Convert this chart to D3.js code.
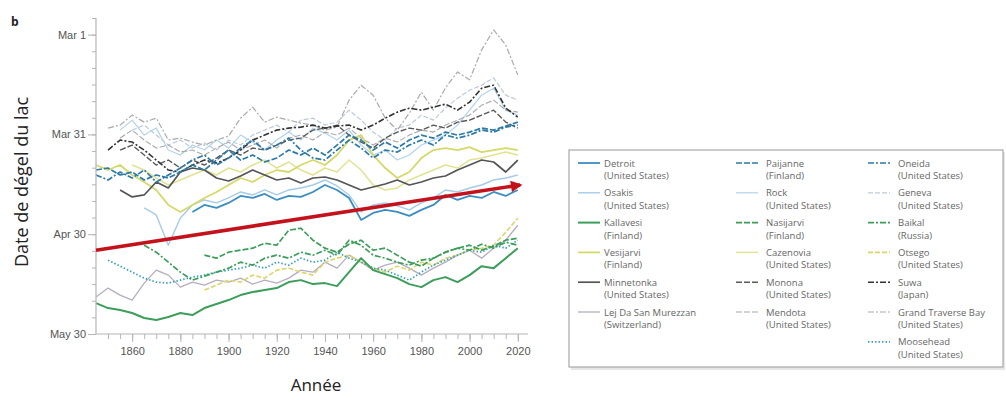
<!DOCTYPE html>
<html>
<head>
<meta charset="utf-8">
<script src="https://cdn.jsdelivr.net/npm/d3@7"></script>
<style>
  body { margin: 0; background: #fff; }
  svg { font-family: "Open Sans", sans-serif; }
</style>
</head>
<body>
<div id="chart"></div>
<script>
// years sampled every 5 years, values are ice-out day of year
var years = [1845, 1850, 1855, 1860, 1865, 1870, 1875, 1880, 1885, 1890, 1895, 1900,
  1905, 1910, 1915, 1920, 1925, 1930, 1935, 1940, 1945, 1950, 1955, 1960,
  1965, 1970, 1975, 1980, 1985, 1990, 1995, 2000, 2005, 2010, 2015, 2020];

// series end in 2020, start where their record begins
var detroit = [113.3, 111.2, 112.1, 110.6, 108.5, 109.1, 107.9, 109.7, 108.5, 108.8, 107.3, 105.2, 106.7, 109.1, 115.7, 113.6, 112.7, 113.3, 114.5, 112.7, 111.2, 108.2, 109.7, 108.5, 109.1, 107.3, 108.5, 106.7];
var osakis = [112.1, 114.2, 123.3, 115.1, 111.2, 109.7, 110.6, 109.1, 107.3, 108.2, 106.7, 108.2, 106.7, 106.1, 105.2, 103.7, 105.5, 108.2, 113.3, 111.2, 110.6, 111.5, 112.7, 110.6, 109.1, 106.7, 107.3, 106.1, 105.2, 103.7, 103.1, 102.2];
var kallavesi = [140.7, 142.2, 142.8, 143.7, 145.2, 145.8, 144.9, 143.7, 144.3, 142.2, 141.0, 139.8, 138.3, 137.4, 136.8, 136.2, 134.4, 133.8, 135.0, 134.7, 135.6, 131.4, 127.2, 130.8, 132.0, 133.2, 135.0, 135.9, 133.8, 132.9, 134.4, 132.3, 129.6, 130.2, 127.2, 124.2];
var vesijarvi = [99.2, 100.7, 99.2, 102.2, 104.3, 106.7, 111.2, 113.3, 111.2, 109.1, 107.3, 105.2, 103.1, 104.3, 102.2, 100.7, 101.3, 99.2, 97.7, 99.2, 96.2, 91.7, 90.2, 96.2, 100.1, 103.1, 101.3, 97.1, 94.7, 94.1, 94.7, 93.8, 95.3, 94.7, 94.1, 94.7];
var minnetonka = [106.7, 108.8, 108.2, 104.3, 106.1, 101.3, 100.1, 100.7, 103.1, 104.0, 102.5, 100.7, 102.2, 103.7, 103.1, 104.6, 103.1, 102.8, 103.7, 105.2, 106.7, 105.8, 104.9, 103.7, 105.2, 104.3, 103.1, 102.5, 100.7, 99.2, 97.7, 98.3, 101.3, 97.7];
var lejDaSanMurezzan = [138.9, 136.2, 138.3, 139.8, 134.7, 130.8, 132.3, 135.9, 134.4, 135.3, 133.8, 134.4, 133.2, 135.0, 133.8, 134.7, 133.2, 130.8, 131.4, 128.4, 130.2, 126.3, 128.4, 130.8, 129.3, 128.4, 130.2, 132.3, 130.2, 128.4, 126.3, 124.8, 127.2, 124.2, 121.8, 117.3];
var paijanne = [100.7, 100.1, 102.2, 101.3, 103.7, 102.2, 103.1, 101.3, 99.2, 100.7, 97.7, 94.7, 97.7, 96.2, 98.3, 97.1, 94.7, 96.2, 94.1, 96.2, 93.2, 90.2, 91.7, 94.7, 92.3, 94.1, 91.7, 90.2, 91.1, 89.3, 90.2, 89.3, 88.1, 88.7, 87.5, 86.3];
var rock = [88.7, 85.7, 90.2, 88.1, 94.7, 96.2, 93.2, 94.7, 91.7, 94.1, 90.2, 92.3, 94.7, 91.7, 89.3, 91.7, 88.1, 89.6, 91.7, 88.7, 93.2, 96.2, 94.7, 97.7, 96.2, 93.2, 91.7, 90.2, 87.2, 82.7, 78.2, 76.1, 82.7, 84.2];
var nasijarvi = [126.3, 127.2, 125.4, 124.8, 124.2, 122.7, 123.3, 118.8, 118.2, 121.8, 124.2, 125.4, 123.0, 121.8, 124.8, 124.2, 126.3, 128.4, 129.6, 127.2, 125.4, 124.2, 123.3, 124.8, 123.6, 121.8, 121.2];
var cazenovia = [99.2, 100.7, 103.1, 105.2, 103.7, 102.2, 100.7, 102.2, 100.1, 101.3, 99.2, 97.7, 100.1, 98.3, 100.7, 102.2, 100.1, 101.3, 97.7, 100.7, 105.2, 106.7, 106.1, 103.7, 102.2, 100.7, 99.2, 100.1, 97.7, 97.1, 96.2, 95.3, 96.2];
var monona = [94.7, 93.2, 96.2, 99.2, 97.7, 100.1, 97.7, 99.2, 97.1, 94.7, 96.2, 94.1, 94.7, 93.2, 91.7, 91.1, 88.7, 88.1, 87.2, 90.2, 92.3, 94.1, 91.1, 89.3, 88.1, 88.7, 87.2, 88.1, 86.3, 85.7, 84.2, 82.7, 86.3, 88.1];
var mendota = [91.1, 88.7, 91.7, 94.1, 93.2, 95.3, 94.7, 96.2, 94.1, 92.3, 94.7, 93.2, 91.7, 94.1, 91.1, 90.2, 91.7, 89.3, 90.2, 88.1, 91.1, 93.2, 91.1, 92.3, 90.2, 88.7, 89.3, 87.2, 85.7, 84.2, 81.2, 79.7, 82.7, 83.3];
var oneida = [102.2, 103.7, 101.3, 103.1, 100.7, 104.3, 102.2, 100.1, 97.7, 96.2, 99.2, 97.1, 94.1, 91.7, 94.7, 93.2, 91.1, 94.7, 97.1, 97.7, 94.7, 91.7, 94.1, 97.1, 94.7, 95.3, 93.2, 91.7, 93.2, 90.2, 91.1, 90.2, 88.7, 89.3, 87.8, 87.2];
var geneva = [88.7, 87.2, 90.2, 93.2, 91.7, 94.1, 92.6, 94.7, 91.7, 93.2, 90.2, 88.7, 87.2, 89.3, 85.7, 85.1, 87.2, 86.3, 82.7, 85.7, 89.3, 91.7, 88.1, 87.2, 84.2, 85.7, 82.1, 79.1, 76.7, 75.2, 73.0, 78.2, 79.7];
var baikal = [123.3, 125.4, 128.4, 131.4, 133.8, 132.6, 131.4, 130.2, 128.4, 129.3, 127.2, 126.3, 127.2, 125.4, 126.3, 124.8, 126.3, 121.8, 123.3, 126.3, 127.2, 128.4, 129.3, 127.8, 127.2, 125.4, 124.2, 124.8, 123.0, 124.2, 122.4, 123.3];
var otsego = [136.8, 135.3, 133.8, 134.4, 132.3, 133.2, 130.8, 130.2, 131.4, 132.3, 128.4, 127.2, 126.3, 128.4, 130.2, 131.4, 129.6, 130.8, 128.4, 129.3, 127.2, 126.3, 124.8, 124.2, 123.3, 119.4, 115.2];
var suwa = [94.7, 91.7, 92.3, 94.7, 97.7, 100.7, 101.3, 99.2, 97.7, 98.6, 97.1, 94.7, 91.7, 90.2, 88.7, 88.1, 87.8, 87.2, 88.1, 87.5, 87.2, 88.7, 87.2, 85.1, 83.3, 82.1, 82.7, 81.8, 80.9, 82.7, 80.3, 76.1, 75.2, 82.1, 84.8];
var grandTraverseBay = [88.1, 87.2, 84.2, 86.3, 85.1, 91.7, 91.1, 92.3, 93.2, 91.7, 90.5, 85.1, 81.8, 86.3, 84.8, 85.7, 86.6, 87.2, 88.7, 87.8, 79.7, 75.2, 78.2, 85.1, 88.7, 83.6, 77.3, 82.7, 76.0, 71.2, 73.6, 64.6, 58.6, 63.1, 72.1];
var moosehead = [127.8, 129.6, 131.4, 133.2, 134.4, 134.7, 133.8, 132.9, 132.3, 131.4, 130.8, 130.2, 129.3, 130.2, 128.4, 129.3, 127.2, 128.4, 127.8, 125.4, 127.2, 128.4, 130.2, 130.8, 132.3, 133.8, 131.4, 129.3, 127.8, 126.3, 124.8, 125.4, 123.3, 124.2, 121.8];

var lakeNames = ["Detroit", "Osakis", "Kallavesi", "Vesijarvi", "Minnetonka", "Lej Da San Murezzan",
  "Paijanne", "Rock", "Nasijarvi", "Cazenovia", "Monona", "Mendota",
  "Oneida", "Geneva", "Baikal", "Otsego", "Suwa", "Grand Traverse Bay", "Moosehead"];
var lakeCountries = ["United States", "United States", "Finland", "Finland", "United States", "Switzerland",
  "Finland", "United States", "Finland", "United States", "United States", "United States",
  "United States", "United States", "Russia", "United States", "Japan", "United States", "United States"];
var lakeValues = [detroit, osakis, kallavesi, vesijarvi, minnetonka, lejDaSanMurezzan,
  paijanne, rock, nasijarvi, cazenovia, monona, mendota,
  oneida, geneva, baikal, otsego, suwa, grandTraverseBay, moosehead];

var yTickDays = [60, 90, 120, 150];
var yTickLabels = ["Mar 1", "Mar 31", "Apr 30", "May 30"];
var xTickYears = [1860, 1880, 1900, 1920, 1940, 1960, 1980, 2000, 2020];

// trend arrow [year, day]
var trendArrow = [[1845, 124.8], [2021, 105.2]];

// line styles, same order as lakeNames
var styles = [
  {c: "#3b8dc2", w: 1.8, d: null},
  {c: "#a5cbe8", w: 1.4, d: null},
  {c: "#3c9e5a", w: 2.0, d: null},
  {c: "#d5d969", w: 1.8, d: null},
  {c: "#555555", w: 1.7, d: null},
  {c: "#b6adc0", w: 1.3, d: null},
  {c: "#2b7aa8", w: 1.7, d: "6,2"},
  {c: "#b2d3ec", w: 1.2, d: null},
  {c: "#3c9e5a", w: 1.7, d: "6,2"},
  {c: "#e2e392", w: 1.5, d: null},
  {c: "#5a5a5a", w: 1.4, d: "6,2"},
  {c: "#a8a8a8", w: 1.1, d: "6,2"},
  {c: "#2b7aa8", w: 1.7, d: "6,2,2,2"},
  {c: "#bccbdb", w: 1.2, d: "5,2"},
  {c: "#3c9e5a", w: 1.7, d: "6,2,2,2"},
  {c: "#dcd56c", w: 1.6, d: "5,2"},
  {c: "#333333", w: 1.6, d: "6,2,2,2"},
  {c: "#aaaaaa", w: 1.2, d: "6,2,2,2"},
  {c: "#3aa0b8", w: 1.7, d: "1.5,2"}
];

// drawing order, light ones first
var drawOrder = [13, 7, 17, 11, 1, 5, 9, 15, 3, 18, 14, 8, 2, 10, 16, 4, 0, 12, 6];

var svg = d3.select("#chart").append("svg")
    .attr("width", 1006)
    .attr("height", 400);

var x = d3.scaleLinear().domain([1845, 2023]).range([96, 525]);
var y = d3.scaleLinear().domain([55, 150]).range([18, 334]);

// lines
var line = d3.line()
    .defined(function(d) { return d[1] != null; })
    .x(function(d) { return x(d[0]); })
    .y(function(d) { return y(d[1]); });

drawOrder.forEach(function(i) {
  var vals = lakeValues[i];
  var off = years.length - vals.length;
  var pts = vals.map(function(v, k) { return [years[k + off], v]; });
  var s = styles[i];
  svg.append("path")
      .attr("d", line(pts))
      .attr("fill", "none")
      .attr("stroke", s.c)
      .attr("stroke-width", s.w)
      .attr("stroke-linejoin", "round")
      .attr("stroke-dasharray", s.d);
});

// axes
var axisColor = "#b5b5b5";
var gy = svg.append("g").attr("transform", "translate(96,0)");
gy.call(d3.axisLeft(y).tickValues(d3.range(55, 151, 5)).tickSize(4).tickFormat(""));
gy.call(function(g) {
  g.select(".domain").remove();
});
gy.append("g").call(d3.axisLeft(y).tickValues(yTickDays).tickSize(8)
    .tickFormat(function(d, i) { return yTickLabels[i]; }))
  .call(function(g) { g.select(".domain").remove(); });
svg.append("line").attr("x1", 96).attr("x2", 96).attr("y1", 18).attr("y2", 334)
    .attr("stroke", axisColor).attr("stroke-width", 1.2);
gy.selectAll("line").attr("stroke", axisColor);
gy.selectAll("text").attr("fill", "#555").style("font-size", "11px").attr("x", -10);

var gx = svg.append("g").attr("transform", "translate(0,334)");
gx.call(d3.axisBottom(x).tickValues(d3.range(1850, 2021, 5)).tickSize(5).tickFormat(""))
  .call(function(g) { g.select(".domain").remove(); });
gx.append("g").call(d3.axisBottom(x).tickValues(xTickYears).tickSize(8).tickFormat(d3.format("d")))
  .call(function(g) { g.select(".domain").remove(); });
svg.append("line").attr("x1", 96).attr("x2", 528).attr("y1", 334).attr("y2", 334)
    .attr("stroke", axisColor).attr("stroke-width", 1.2);
gx.selectAll("line").attr("stroke", axisColor);
gx.selectAll("text").attr("fill", "#555").style("font-size", "11px").attr("y", 13);

// trend arrow
svg.append("defs").append("marker")
    .attr("id", "head")
    .attr("viewBox", "0 0 10 10")
    .attr("refX", 8).attr("refY", 5)
    .attr("markerWidth", 4).attr("markerHeight", 3.2)
    .attr("orient", "auto")
  .append("path")
    .attr("d", "M0,0 L10,5 L0,10 z")
    .attr("fill", "#c3121c");
svg.append("line")
    .attr("x1", x(trendArrow[0][0])).attr("y1", y(trendArrow[0][1]))
    .attr("x2", x(trendArrow[1][0])).attr("y2", y(trendArrow[1][1]))
    .attr("stroke", "#c3121c")
    .attr("stroke-width", 3.6)
    .attr("marker-end", "url(#head)");

// titles
svg.append("text").attr("x", 11).attr("y", 26).text("b")
    .style("font-size", "12px").style("font-weight", "bold").attr("fill", "#222");
svg.append("text")
    .attr("transform", "translate(28,182) rotate(-90)")
    .attr("text-anchor", "middle")
    .style("font-size", "18px").attr("fill", "#222")
    .text("Date de dégel du lac");
svg.append("text")
    .attr("x", 316).attr("y", 391)
    .attr("text-anchor", "middle")
    .style("font-size", "17px").attr("fill", "#222")
    .text("Année");

// legend
var legend = svg.append("g");
legend.append("rect").attr("x", 571).attr("y", 152).attr("width", 434).attr("height", 218)
    .attr("fill", "#e6e6e6");
legend.append("rect").attr("x", 569).attr("y", 150).attr("width", 434).attr("height", 217)
    .attr("fill", "#fff").attr("stroke", "#a8a8a8").attr("stroke-width", 1.2);

var colLine = [578, 736, 868];
var colText = [604, 766, 898];
lakeNames.forEach(function(name, i) {
  var col = i < 6 ? 0 : (i < 12 ? 1 : 2);
  var row = col === 0 ? i : (col === 1 ? i - 6 : i - 12);
  var yy = 163 + row * 29.8;
  var s = styles[i];
  legend.append("line")
      .attr("x1", colLine[col]).attr("x2", colLine[col] + 22)
      .attr("y1", yy).attr("y2", yy)
      .attr("stroke", s.c).attr("stroke-width", s.w)
      .attr("stroke-dasharray", s.d);
  var t = legend.append("text").attr("x", colText[col]).attr("y", yy + 3.5)
      .style("font-size", "9.5px").attr("fill", "#666");
  t.append("tspan").text(name);
  t.append("tspan").attr("x", colText[col]).attr("dy", 12.5).text("(" + lakeCountries[i] + ")");
});
</script>
</body>
</html>
